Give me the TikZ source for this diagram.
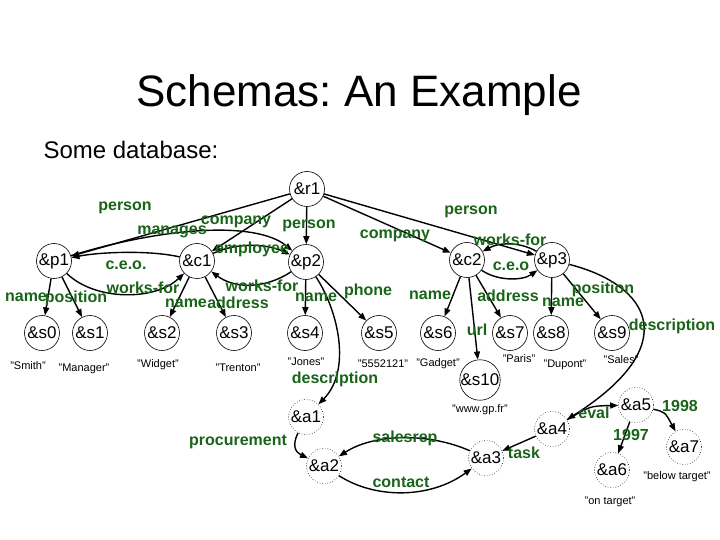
\documentclass[tikz,border=0pt]{standalone}
\usepackage{fontspec}
\setmainfont{Liberation Sans}
\usetikzlibrary{arrows.meta}
\usepackage{xcolor}
\definecolor{lblgreen}{RGB}{25,100,25}

\begin{document}
\begin{tikzpicture}[x=1pt,y=-1pt,
      arr/.style={-{Triangle[length=8pt,width=6pt]},line width=1.4pt},
      obj/.style={draw,circle,minimum size=35pt,inner sep=0pt,line width=0.6pt,
                  font=\fontsize{17}{17}\selectfont},
      anc/.style={obj,dotted},
      lbl/.style={font=\fontsize{16}{16}\selectfont\bfseries,text=lblgreen,inner sep=0pt},
      val/.style={font=\fontsize{11}{11}\selectfont,inner sep=0pt}
    ]
    \useasboundingbox (0,0) rectangle (720,540);

    \node[font=\fontsize{44}{44}\selectfont\frenchspacing] (title) at (359,95) {Schemas: An Example};
    \node[font=\fontsize{24}{24}\selectfont,anchor=west] (intro) at (40,150) {Some database:};

    % objects
    \node[obj] (r1) at (307,189) {\&r1};
    \node[obj] (p1) at (54,261) {\&p1};
    \node[obj] (c1) at (197,261) {\&c1};
    \node[obj] (p2) at (306,262) {\&p2};
    \node[obj] (c2) at (467,260) {\&c2};
    \node[obj] (p3) at (552,260) {\&p3};
    \node[obj] (s0) at (42,333) {\&s0};
    \node[obj] (s1) at (90,333) {\&s1};
    \node[obj] (s2) at (162,333) {\&s2};
    \node[obj] (s3) at (234,333) {\&s3};
    \node[obj] (s4) at (305,333) {\&s4};
    \node[obj] (s5) at (379,333) {\&s5};
    \node[obj] (s6) at (438,333) {\&s6};
    \node[obj] (s7) at (510,333) {\&s7};
    \node[obj] (s8) at (551,333) {\&s8};
    \node[obj] (s9) at (612,333) {\&s9};
    \node[obj] (s10) at (480,380) {\&s10};
    \node[anc] (a1) at (306,417) {\&a1};
    \node[anc] (a2) at (324,466) {\&a2};
    \node[anc] (a3) at (486,458) {\&a3};
    \node[anc] (a4) at (552,429) {\&a4};
    \node[anc] (a5) at (636,405) {\&a5};
    \node[anc] (a6) at (612,470) {\&a6};
    \node[anc] (a7) at (684,447) {\&a7};

    % string values
    \node[val] (v0) at (28,366) {"Smith"};
    \node[val] (v1) at (84,369) {"Manager"};
    \node[val] (v2) at (158,365) {"Widget"};
    \node[val] (v3) at (238,368) {"Trenton"};
    \node[val] (v4) at (306,362) {"Jones"};
    \node[val] (v5) at (383,364) {"5552121"};
    \node[val] (v6) at (438,364) {"Gadget"};
    \node[val] (v7) at (519,359) {"Paris"};
    \node[val] (v8) at (565,365) {"Dupont"};
    \node[val] (v9) at (621,360) {"Sales"};
    \node[val] (v10) at (480,410) {"www.gp.fr"};
    \node[val] (v11) at (610,502) {"on target"};
    \node[val] (v12) at (677,477) {"below target"};

    % edges
    \draw[arr] (r1) -- (p1);
    \draw[arr] (r1) -- (c1);
    \draw[arr] (r1) -- (p2);
    \draw[arr] (r1) -- (c2);
    \draw[arr] (r1) -- (p3);
    \draw[arr] (p1) .. controls (160,228) and (255,220) .. (p2);
    \draw[arr] (c1) .. controls (150,250) and (100,252) .. (p1);
    \draw[arr] (p1) .. controls (95,301) and (155,301) .. (c1);
    \draw[arr] (c1) .. controls (235,243) and (265,243) .. (p2);
    \draw[arr] (p2) .. controls (265,289) and (235,289) .. (c1);
    \draw[arr] (p3) .. controls (520,242) and (500,242) .. (c2);
    \draw[arr] (c2) .. controls (497,281) and (522,281) .. (p3);
    \draw[arr] (p1) -- (s0);
    \draw[arr] (p1) -- (s1);
    \draw[arr] (c1) -- (s2);
    \draw[arr] (c1) -- (s3);
    \draw[arr] (p2) -- (s4);
    \draw[arr] (p2) -- (s5);
    \draw[arr] (c2) -- (s6);
    \draw[arr] (c2) -- (s10);
    \draw[arr] (c2) -- (s7);
    \draw[arr] (p3) -- (s8);
    \draw[arr] (p3) -- (s9);
    \draw[arr] (p2) .. controls (338,310) and (352,370) .. (a1);
    \draw[arr] (p3) .. controls (650,285) and (685,345) .. (a4);
    \draw[arr] (a1) .. controls (292,445) and (295,452) .. (a2);
    \draw[arr] (a3) .. controls (430,433) and (375,433) .. (a2);
    \draw[arr] (a2) .. controls (375,499) and (430,499) .. (a3);
    \draw[arr] (a4) -- (a3);
    \draw[arr] (a4) .. controls (590,406) .. (a5);
    \draw[arr] (a5) -- (a6);
    \draw[arr] (a5) .. controls (665,412) .. (a7);

    % edge labels
    \node[lbl] (l1) at (125,208) {person};
    \node[lbl] (l2) at (172,232) {manages};
    \node[lbl] (l3) at (236,222) {company};
    \node[lbl] (l4) at (309,226) {person};
    \node[lbl] (l5) at (252,249) {employee};
    \node[lbl] (l6) at (126,265) {c.e.o.};
    \node[lbl] (l7) at (143,288) {works-for};
    \node[lbl] (l8) at (262,286) {works-for};
    \node[lbl] (l9) at (26,297) {name};
    \node[lbl] (l10) at (76,298) {position};
    \node[lbl] (l11) at (186,303) {name};
    \node[lbl] (l12) at (238,303) {address};
    \node[lbl] (l13) at (316,297) {name};
    \node[lbl] (l14) at (368,291) {phone};
    \node[lbl] (l15) at (395,236) {company};
    \node[lbl] (l16) at (471,212) {person};
    \node[lbl] (l17) at (510,240) {works-for};
    \node[lbl] (l18) at (511,266) {c.e.o};
    \node[lbl] (l19) at (430,295) {name};
    \node[lbl] (l20) at (508,296) {address};
    \node[lbl] (l21) at (563,302) {name};
    \node[lbl] (l22) at (603,289) {position};
    \node[lbl] (l23) at (477,330) {url};
    \node[lbl] (l24) at (672,326) {description};
    \node[lbl] (l25) at (335,379) {description};
    \node[lbl] (l26) at (238,442) {procurement};
    \node[lbl] (l27) at (405,438) {salesrep};
    \node[lbl] (l28) at (401,482) {contact};
    \node[lbl] (l29) at (524,453) {task};
    \node[lbl] (l30) at (594,413) {eval};
    \node[lbl] (l31) at (680,406) {1998};
    \node[lbl] (l32) at (631,435) {1997};
  \end{tikzpicture}
\end{document}
